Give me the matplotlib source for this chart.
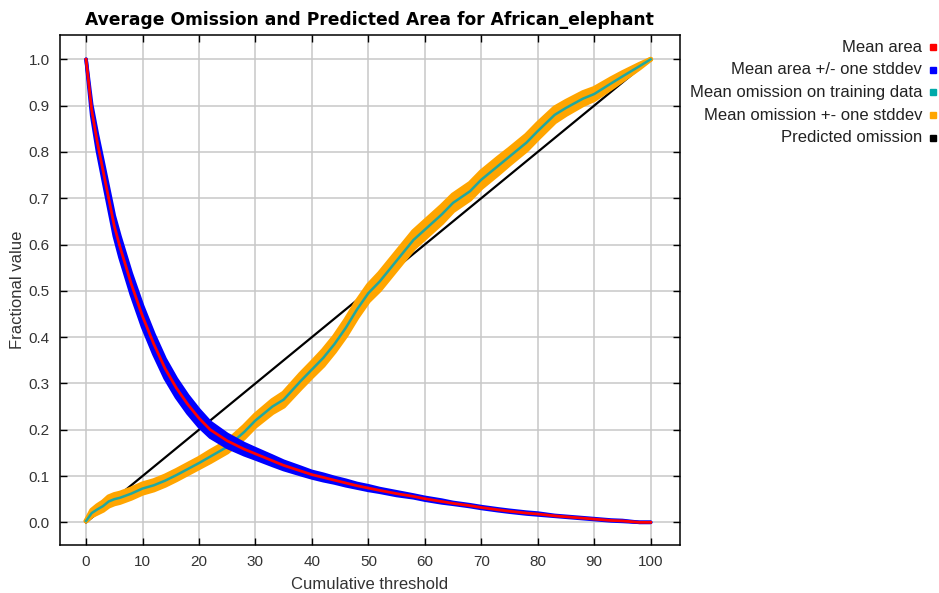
import matplotlib.pyplot as plt
from matplotlib.patches import Rectangle

# cumulative threshold grid
threshold = [0, 1, 2, 3, 4, 5, 6, 8, 10, 12, 14, 16, 18, 20, 22, 25, 28, 30, 33, 35,
             38, 40, 42, 44, 46, 48, 50, 52, 55, 58, 60, 63, 65, 68, 70, 73, 75, 78,
             80, 83, 85, 88, 90, 93, 95, 98, 100]

mean_area = [1.0, 0.89, 0.82, 0.76, 0.70, 0.64, 0.595, 0.515, 0.445, 0.385, 0.332, 0.29,
             0.255, 0.225, 0.2, 0.176, 0.158, 0.148, 0.133, 0.123, 0.111, 0.103, 0.097,
             0.091, 0.085, 0.079, 0.074, 0.069, 0.062, 0.056, 0.051, 0.045, 0.041,
             0.036, 0.032, 0.027, 0.024, 0.020, 0.018, 0.014, 0.012, 0.009, 0.007,
             0.004, 0.003, 0.0, 0.0]

area_sd = [0.0, 0.012, 0.018, 0.02, 0.021, 0.022, 0.023, 0.023, 0.023, 0.022, 0.021,
           0.02, 0.019, 0.018, 0.016, 0.014, 0.012, 0.011, 0.01, 0.009, 0.008, 0.007,
           0.007, 0.006, 0.006, 0.005, 0.005, 0.004, 0.004, 0.003, 0.003, 0.003, 0.002,
           0.002, 0.002, 0.002, 0.002, 0.002, 0.002, 0.001, 0.001, 0.001, 0.001, 0.001,
           0.001, 0.0, 0.0]

mean_omission = [0.003, 0.02, 0.028, 0.035, 0.045, 0.05, 0.053, 0.062, 0.073, 0.08,
                 0.09, 0.102, 0.115, 0.128, 0.142, 0.163, 0.195, 0.22, 0.25, 0.265,
                 0.305, 0.33, 0.355, 0.385, 0.42, 0.46, 0.495, 0.52, 0.565, 0.61, 0.632,
                 0.665, 0.69, 0.715, 0.74, 0.77, 0.79, 0.82, 0.845, 0.88, 0.895, 0.915,
                 0.925, 0.948, 0.963, 0.985, 1.0]

omission_sd = [0.0, 0.006, 0.008, 0.009, 0.01, 0.01, 0.01, 0.01, 0.01, 0.01, 0.01,
               0.01, 0.01, 0.01, 0.011, 0.011, 0.012, 0.012, 0.013, 0.014, 0.015, 0.015,
               0.016, 0.016, 0.017, 0.017, 0.017, 0.018, 0.018, 0.018, 0.018, 0.018,
               0.017, 0.017, 0.017, 0.017, 0.016, 0.016, 0.016, 0.015, 0.014, 0.013,
               0.012, 0.01, 0.008, 0.004, 0.0]

predicted_x = [0, 100]
predicted_y = [0.0, 1.0]

legend_labels = ["Mean area", "Mean area +/- one stddev", "Mean omission on training data",
                 "Mean omission +- one stddev", "Predicted omission"]
legend_colors = ["#ff0000", "#0000ff", "#00aaaa", "#ffa500", "#000000"]

plt.rcParams["font.family"] = "Liberation Sans"

fig = plt.figure(figsize=(9.39, 5.93), dpi=100)
ax = fig.add_axes([0.0634, 0.0809, 0.6608, 0.8601])

area_lo = [m - s for m, s in zip(mean_area, area_sd)]
area_hi = [m + s for m, s in zip(mean_area, area_sd)]
om_lo = [m - s for m, s in zip(mean_omission, omission_sd)]
om_hi = [m + s for m, s in zip(mean_omission, omission_sd)]

# predicted omission at the bottom, then omission band, mean omission, area band, mean area
ax.plot(predicted_x, predicted_y, color="black", lw=1.6, zorder=2)

ax.fill_between(threshold, om_lo, om_hi, color="#ffa500", lw=0, zorder=3)
ax.plot(threshold, om_lo, color="#ffa500", lw=3.6, solid_capstyle="round", zorder=3)
ax.plot(threshold, om_hi, color="#ffa500", lw=3.6, solid_capstyle="round", zorder=3)
ax.plot(threshold, mean_omission, color="#20a8a0", lw=1.8, zorder=4)

ax.fill_between(threshold, area_lo, area_hi, color="#0000ff", lw=0, zorder=5)
ax.plot(threshold, area_lo, color="#0000ff", lw=2.6, solid_capstyle="round", zorder=5)
ax.plot(threshold, area_hi, color="#0000ff", lw=2.6, solid_capstyle="round", zorder=5)
ax.plot(threshold, mean_area, color="#ff0000", lw=2.0, zorder=6)

ax.set_xlim(-4.7, 105.2)
ax.set_ylim(-0.049, 1.0525)
ax.set_xticks(range(0, 101, 10))
ax.set_yticks([i / 10 for i in range(11)])
ax.set_yticklabels([f"{i / 10:.1f}" for i in range(11)])
ax.grid(True, color="#c8c8c8", lw=1.1, zorder=0)
ax.set_axisbelow(True)
ax.tick_params(direction="in", length=5, width=1, top=True, right=True,
               labelsize=11, labelcolor="#333333", pad=7)
for spine in ax.spines.values():
    spine.set_linewidth(1.1)

ax.set_title("Average Omission and Predicted Area for African_elephant",
             fontsize=12.3, fontweight="bold", family="DejaVu Sans", pad=7)
ax.set_xlabel("Cumulative threshold", fontsize=12, color="#333333", labelpad=6)
ax.set_ylabel("Fractional value", fontsize=12, color="#333333", labelpad=3)

# legend drawn at the right, text right-aligned with colour squares
for i, (label, color) in enumerate(zip(legend_labels, legend_colors)):
    y = 1 - (47 + i * 22.7) / 593
    fig.text(922 / 939, y, label, ha="right", va="center", fontsize=12, color="#222222")
    fig.patches.append(Rectangle((930 / 939, y - 3 / 593), 6 / 939, 6 / 593,
                                 transform=fig.transFigure, color=color))

fig.savefig("out.png", dpi=100)
